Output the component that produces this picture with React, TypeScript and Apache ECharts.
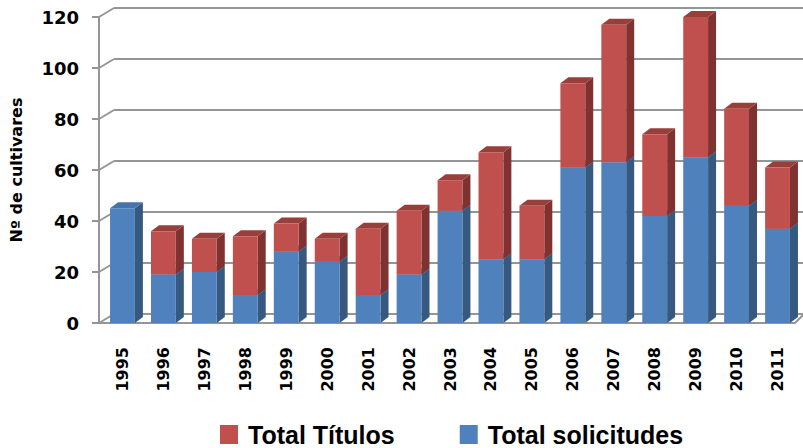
import React, { useEffect, useRef } from "react";
import * as echarts from "echarts";

const years = ["1995","1996","1997","1998","1999","2000","2001","2002","2003","2004","2005","2006","2007","2008","2009","2010","2011"];
const solicitudes = [45,19,20,11,28,24,11,19,44,25,25,61,63,42,65,46,37];
const titulos = [0,17,13,23,11,9,26,25,12,42,21,33,54,32,55,38,24];
const yTicks = [0,20,40,60,80,100,120];

const BLUE = { front: "#4F81BD", side: "#36597F", top: "#4674AB" };
const RED = { front: "#C0504D", side: "#7F3230", top: "#983E3B" };

const DX = 8;
const DY = 6;

function barRender(col: { front: string; side: string; top: string }) {
  return (params: any, api: any) => {
    const x = api.value(0);
    const base = api.value(1);
    const top = api.value(2);
    if (top <= base) return { type: "group", children: [] };
    const p0 = api.coord([x, base]);
    const p1 = api.coord([x, top]);
    const bw = api.size([1, 0])[0] * 0.607;
    const left = p0[0] - bw / 2;
    const right = left + bw;
    const yb = p0[1];
    const yt = p1[1];
    return {
      type: "group",
      children: [
        {
          type: "polygon",
          shape: { points: [[right, yt], [right + DX, yt - DY], [right + DX, yb - DY], [right, yb]] },
          style: { fill: col.side },
        },
        {
          type: "polygon",
          shape: { points: [[left, yt], [left + DX, yt - DY], [right + DX, yt - DY], [right, yt]] },
          style: { fill: col.top },
        },
        {
          type: "rect",
          shape: { x: left, y: yt, width: bw, height: yb - yt },
          style: { fill: col.front },
        },
      ],
    };
  };
}

function wallRender(params: any, api: any) {
  const cs = params.coordSys;
  const v = api.value(1);
  const y = api.coord([0, v])[1];
  const fx = cs.x - 3;
  const bx = cs.x + 12;
  const lineStyle = { stroke: "#959595", lineWidth: 2, fill: null };
  const children: any[] = [
    { type: "line", shape: { x1: fx - 7, y1: y, x2: fx, y2: y }, style: lineStyle },
    { type: "line", shape: { x1: fx, y1: y, x2: bx, y2: y - 9 }, style: lineStyle },
    { type: "line", shape: { x1: bx, y1: y - 9, x2: cs.x + cs.width + 6, y2: y - 9 }, style: lineStyle },
  ];
  if (v === 0) {
    children.push({
      type: "line",
      shape: { x1: fx, y1: cs.y, x2: fx, y2: cs.y + cs.height },
      style: lineStyle,
    });
    children.push({
      type: "polyline",
      shape: { points: [[fx, y], [cs.x + cs.width - 3, y], [cs.x + cs.width + 5, y - 8]] },
      style: lineStyle,
    });
  }
  return { type: "group", children };
}

export default function App() {
  const ref = useRef<HTMLDivElement>(null);
  useEffect(() => {
    if (!ref.current) return;
    const chart = echarts.init(ref.current, null, { renderer: "svg" });
    const blueData = years.map((_, i) => [i, 0, solicitudes[i]]);
    const redData = years.map((_, i) => [i, solicitudes[i], solicitudes[i] + titulos[i]]);
    chart.setOption({
      animation: false,
      backgroundColor: "#ffffff",
      grid: { left: 98, right: 5, top: 17, bottom: 125 },
      legend: {
        left: 215,
        top: 417,
        itemWidth: 18,
        itemHeight: 19,
        itemGap: 65,
        icon: "rect",
        data: ["Total Títulos", "Total solicitudes"],
        textStyle: {
          fontFamily: "Liberation Sans",
          fontWeight: "bold",
          fontSize: 25,
          color: "#000",
          padding: [0, 0, 0, 5],
        },
      },
      xAxis: {
        type: "category",
        data: years,
        axisLine: { show: false },
        axisTick: { show: false },
        splitLine: { show: false },
        axisLabel: {
          rotate: 90,
          margin: 24,
          fontFamily: "DejaVu Sans",
          fontWeight: "bold",
          fontSize: 16,
          color: "#000",
        },
      },
      yAxis: {
        type: "value",
        min: 0,
        max: 120,
        interval: 20,
        axisLine: { show: false },
        axisTick: { show: false },
        splitLine: { show: false },
        axisLabel: {
          margin: 23,
          fontFamily: "DejaVu Sans",
          fontWeight: "bold",
          fontSize: 18,
          color: "#000",
        },
        name: "Nº de cultivares",
        nameLocation: "middle",
        nameRotate: 90,
        nameGap: 78,
        nameTextStyle: {
          fontFamily: "DejaVu Sans",
          fontWeight: "bold",
          fontSize: 16,
          color: "#000",
        },
      },
      series: [
        {
          type: "custom",
          name: "wall",
          silent: true,
          clip: false,
          z: 1,
          data: yTicks.map((v) => [0, v]),
          encode: { x: 0, y: 1 },
          renderItem: wallRender,
        },
        {
          type: "custom",
          name: "Total solicitudes",
          clip: false,
          z: 2,
          itemStyle: { color: BLUE.front },
          data: blueData,
          encode: { x: 0, y: [1, 2] },
          renderItem: barRender(BLUE),
        },
        {
          type: "custom",
          name: "Total Títulos",
          clip: false,
          z: 3,
          itemStyle: { color: RED.front },
          data: redData,
          encode: { x: 0, y: [1, 2] },
          renderItem: barRender(RED),
        },
      ],
    });
    return () => chart.dispose();
  }, []);
  return (
    <div
      ref={ref}
      style={{ position: "fixed", left: 0, top: 0, width: 803, height: 448 }}
    />
  );
}
